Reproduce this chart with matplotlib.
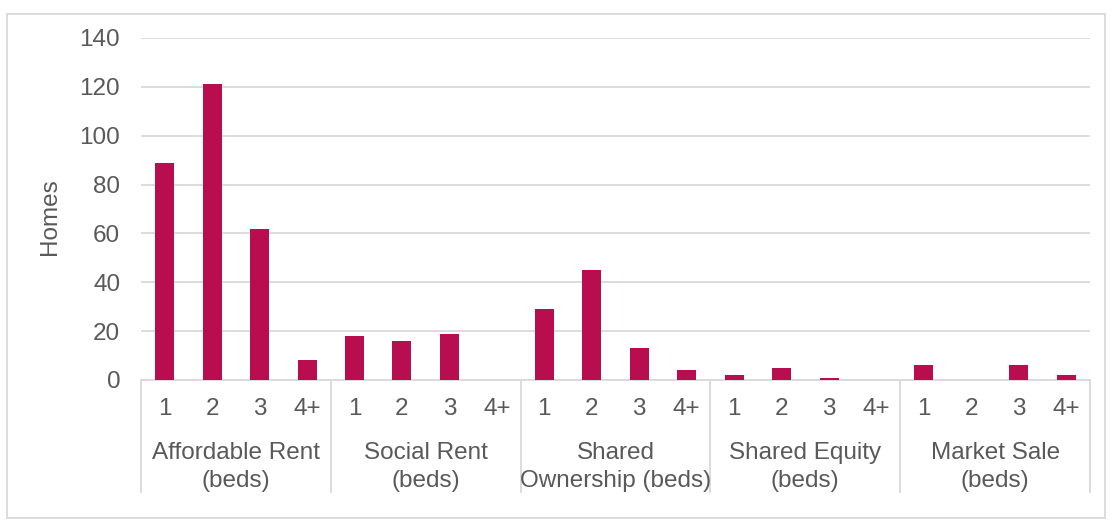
import numpy as np
import matplotlib.pyplot as plt
from matplotlib.patches import Rectangle

plt.rcParams['font.family'] = ['Liberation Sans', 'DejaVu Sans']

# homes by tenure and number of bedrooms
tenures = ["Affordable Rent\n(beds)", "Social Rent\n(beds)", "Shared\nOwnership (beds)",
           "Shared Equity\n(beds)", "Market Sale\n(beds)"]
beds = ["1", "2", "3", "4+"]
affordable_rent = [89, 121, 62, 8]
social_rent = [18, 16, 19, 0]
shared_ownership = [29, 45, 13, 4]
shared_equity = [2, 5, 1, 0]
market_sale = [6, 0, 6, 2]

valores = affordable_rent + social_rent + shared_ownership + shared_equity + market_sale
etiquetas = beds * len(tenures)

color_barra = "#B80D4F"
gris_texto = "#595959"
gris_linea = "#D9D9D9"
fs = 17.5

W, H = 1113, 520
fig = plt.figure(figsize=(W / 100, H / 100), dpi=100)
ax = fig.add_axes([141 / W, 1 - 380 / H, (1090 - 141) / W, (380 - 38) / H])

x = np.arange(len(valores))
ax.bar(x, valores, width=0.4, color=color_barra, zorder=3)

ax.set_xlim(-0.5, len(valores) - 0.5)
ax.set_ylim(0, 140)
ax.set_yticks(np.arange(0, 141, 20))
ax.grid(axis="y", color=gris_linea, linewidth=1.3, zorder=0)
ax.tick_params(axis="y", length=0, pad=15, labelsize=fs, labelcolor=gris_texto)
ax.set_xticks(x)
ax.set_xticklabels(etiquetas)
ax.tick_params(axis="x", length=0, pad=13, labelsize=fs, labelcolor=gris_texto)

for lado in ["left", "right", "top"]:
    ax.spines[lado].set_visible(False)
ax.spines["bottom"].set_color(gris_linea)
ax.spines["bottom"].set_linewidth(1.3)

ax.set_ylabel("Homes", fontsize=fs, color=gris_texto)
ax.yaxis.set_label_coords(-0.084, 0.477)

# separadores entre grupos y nombres de grupo
trans = ax.get_xaxis_transform()
bajo = -(492 - 380) / (380 - 38)
for k in range(len(tenures) + 1):
    xs = 4 * k - 0.5
    ax.plot([xs, xs], [0, bajo], transform=trans, color=gris_linea,
            linewidth=1.3, clip_on=False)
for k, nombre in enumerate(tenures):
    ax.annotate(nombre, xy=(4 * k + 1.5, 0), xycoords=trans,
                xytext=(0, -87 * 0.72), textcoords="offset points",
                ha="center", va="center", fontsize=fs, color=gris_texto,
                linespacing=1.35)

# marco exterior
fig.patches.append(Rectangle((7 / W, 2 / H), (1105 - 7) / W, (518 - 14) / H,
                             transform=fig.transFigure, fill=False,
                             edgecolor=gris_linea, linewidth=1.3))

fig.savefig("out.png", dpi=100)
